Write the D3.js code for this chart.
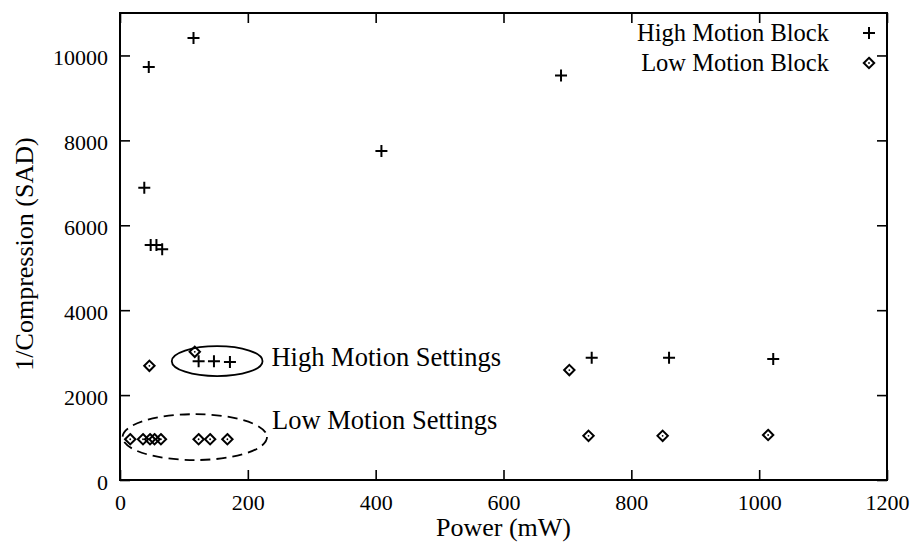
<!DOCTYPE html>
<html>
<head>
<meta charset="utf-8">
<script src="https://cdn.jsdelivr.net/npm/d3@7"></script>
<style>
  html, body { margin: 0; padding: 0; background: #fff; }
  svg { display: block; }
  text { font-family: "Liberation Serif", "Times New Roman", serif; fill: #000; }
</style>
</head>
<body>
<div id="chart"></div>
<script>
// ---- data ----
const xTicks = [0, 200, 400, 600, 800, 1000, 1200];
const yTicks = [0, 2000, 4000, 6000, 8000, 10000];

const highPower = [115, 45, 38, 48, 57, 66, 409, 690, 123, 147, 172, 738, 859, 1022];
const highSAD   = [10410, 9730, 6885, 5535, 5535, 5435, 7750, 9530, 2800, 2800, 2780, 2880, 2880, 2850];

const lowPower = [16, 36, 47, 54, 64, 123, 141, 168, 46, 117, 703, 733, 849, 1014];
const lowSAD   = [960, 960, 960, 960, 960, 960, 960, 960, 2690, 3020, 2590, 1040, 1040, 1060];

const seriesNames = ["High Motion Block", "Low Motion Block"];

// annotation ellipses (data units) and labels
const ellipseCx = [152, 117];
const ellipseCy = [2800, 1010];
const ellipseRx = [71, 113];
const ellipseRy = [353, 540];
const ellipseDashed = [false, true];
const noteText = ["High Motion Settings", "Low Motion Settings"];
const noteX = [237, 238];
const noteY = [2680, 1210];

// ---- layout ----
const W = 914, H = 542;
const mLeft = 120, mRight = 887, mTop = 13, mBottom = 480;

const svg = d3.select("#chart").append("svg").attr("width", W).attr("height", H);

const x = d3.scaleLinear().domain([0, 1200]).range([mLeft, mRight]);
const y = d3.scaleLinear().domain([0, 11000]).range([mBottom, mTop]);

const tickLen = 10;
const fontTick = 22;
const fmt = d3.format("d");

// axes (ticks inward, mirrored)
const axB = svg.append("g").attr("transform", `translate(0,${mBottom})`)
  .call(d3.axisBottom(x).tickValues(xTicks).tickFormat(fmt).tickSizeInner(-tickLen).tickSizeOuter(0).tickPadding(14));
const axT = svg.append("g").attr("transform", `translate(0,${mTop})`)
  .call(d3.axisTop(x).tickValues(xTicks).tickSizeInner(-tickLen).tickSizeOuter(0).tickFormat(""));
const axL = svg.append("g").attr("transform", `translate(${mLeft},0)`)
  .call(d3.axisLeft(y).tickValues(yTicks).tickFormat(fmt).tickSizeInner(-tickLen).tickSizeOuter(0).tickPadding(12));
const axR = svg.append("g").attr("transform", `translate(${mRight},0)`)
  .call(d3.axisRight(y).tickValues(yTicks).tickSizeInner(-tickLen).tickSizeOuter(0).tickFormat(""));

[axB, axT, axL, axR].forEach(g => {
  g.select(".domain").remove();
  g.selectAll(".tick line").attr("stroke", "#000").attr("stroke-width", 1.6);
  g.selectAll(".tick text").attr("font-size", fontTick)
    .style("font-family", "'Liberation Serif', serif").attr("fill", "#000");
});
axL.selectAll(".tick text").attr("dy", "0.42em");

// frame
svg.append("rect")
  .attr("x", mLeft).attr("y", mTop)
  .attr("width", mRight - mLeft).attr("height", mBottom - mTop)
  .attr("fill", "none").attr("stroke", "#000").attr("stroke-width", 2);

// axis titles
svg.append("text")
  .attr("x", x(600)).attr("y", 536)
  .attr("text-anchor", "middle").attr("font-size", 26)
  .text("Power (mW)");

svg.append("text")
  .attr("transform", `translate(33,${(133 + 375) / 2}) rotate(-90)`)
  .attr("text-anchor", "middle").attr("font-size", 26)
  .text("1/Compression (SAD)");

// markers
function plus(g, cx, cy, s) {
  g.append("path")
    .attr("d", `M${cx - s},${cy}H${cx + s}M${cx},${cy - s}V${cy + s}`)
    .attr("stroke", "#000").attr("stroke-width", 2).attr("fill", "none");
}
function diamond(g, cx, cy, s) {
  g.append("path")
    .attr("d", `M${cx},${cy - s}L${cx + s},${cy}L${cx},${cy + s}L${cx - s},${cy}Z`)
    .attr("stroke", "#000").attr("stroke-width", 2).attr("fill", "none");
  g.append("circle").attr("cx", cx).attr("cy", cy).attr("r", 0.9).attr("fill", "#000");
}

const gPts = svg.append("g");
highPower.forEach((p, i) => plus(gPts, x(p), y(highSAD[i]), 6));
lowPower.forEach((p, i) => diamond(gPts, x(p), y(lowSAD[i]), 5.2));

// ellipses
ellipseCx.forEach((c, i) => {
  svg.append("ellipse")
    .attr("cx", x(c)).attr("cy", y(ellipseCy[i]))
    .attr("rx", x(c + ellipseRx[i]) - x(c))
    .attr("ry", y(ellipseCy[i]) - y(ellipseCy[i] + ellipseRy[i]))
    .attr("fill", "none").attr("stroke", "#000").attr("stroke-width", 1.8)
    .attr("stroke-dasharray", ellipseDashed[i] ? "10,6" : null);
});
noteText.forEach((t, i) => {
  svg.append("text")
    .attr("x", x(noteX[i])).attr("y", y(noteY[i]))
    .attr("font-size", 26.5)
    .text(t);
});

// legend
const legX = 829, legSym = 869, legY = [33, 63];
seriesNames.forEach((n, i) => {
  svg.append("text")
    .attr("x", legX).attr("y", legY[i] + 7.5)
    .attr("text-anchor", "end").attr("font-size", 24.5)
    .text(n);
  if (i === 0) plus(svg, legSym, legY[i], 6);
  else diamond(svg, legSym, legY[i], 5.2);
});
</script>
</body>
</html>
